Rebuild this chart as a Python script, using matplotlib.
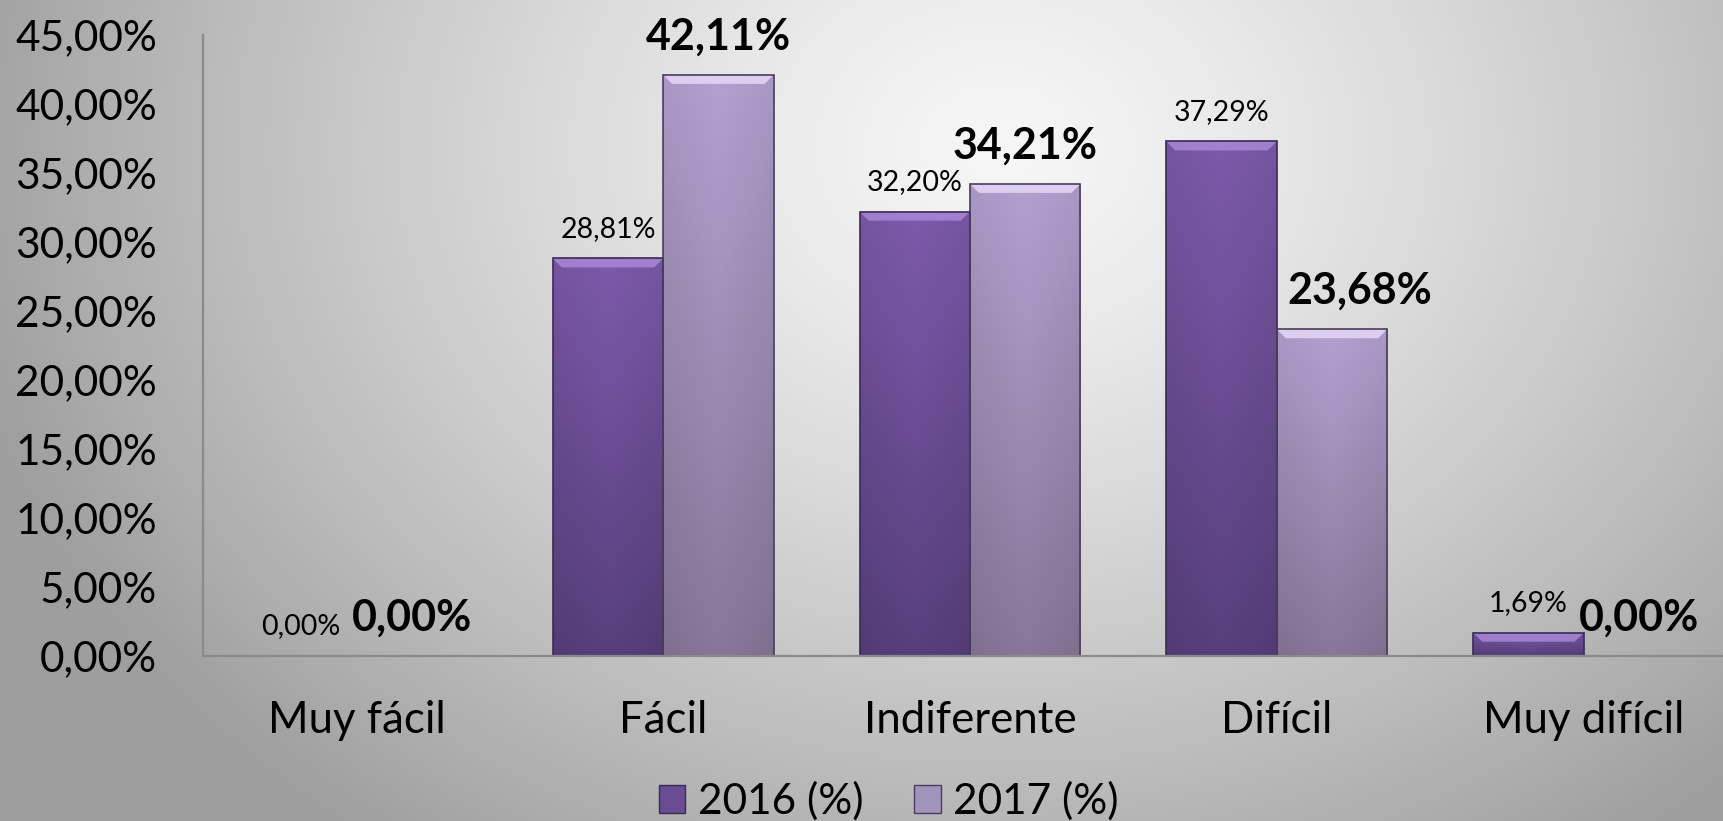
import numpy as np
import matplotlib
matplotlib.use("Agg")
import matplotlib.pyplot as plt
from matplotlib.patches import Polygon, Patch
from matplotlib.colors import to_rgb

categories = ["Muy fácil", "Fácil", "Indiferente", "Difícil", "Muy difícil"]
series_names = ["2016 (%)", "2017 (%)"]
values_2016 = [0.00, 28.81, 32.20, 37.29, 1.69]
values_2017 = [0.00, 42.11, 34.21, 23.68, 0.00]
y_ticks = [0, 5, 10, 15, 20, 25, 30, 35, 40, 45]

FONT = ["Lato", "DejaVu Sans"]
plt.rcParams["font.family"] = FONT

W, H = 1723, 821
fig = plt.figure(figsize=(W / 100, H / 100), dpi=100)

# radial gray background
bg = fig.add_axes([0, 0, 1, 1], zorder=-10)
yy, xx = np.mgrid[0:H, 0:W]
cx, cy = 0.58 * W, 0.18 * H
d = np.sqrt(((xx - cx) / (0.62 * W)) ** 2 + ((yy - cy) / (1.05 * H)) ** 2)
d = np.clip(d, 0, 1)
light, dark = 0.965, 0.62
g = light - (light - dark) * d ** 1.3
bg.imshow(np.dstack([g, g, g]), extent=[0, 1, 0, 1], aspect="auto", origin="upper")
bg.axis("off")

ax = fig.add_axes([203 / W, 1 - 656 / H, 1534 / W, 621 / H])
ax.patch.set_alpha(0)

x = np.arange(len(categories))
bw = 0.36
colors = [
    dict(top="#7d5aab", bot="#573f7c", bevel="#a888d6", edge="#3b2a55"),
    dict(top="#b3a2d0", bot="#877799", bevel="#e6d8f8", edge="#4a3d5c"),
]

ax.set_xlim(-0.5, len(categories) - 0.5)
ax.set_ylim(0, 45)

px_per_unit = 621 / 45.0
bevel_h = 9 / px_per_unit
bevel_dx = 9 / 306.8

# horizontal nudges (points) for labels that avoid neighbouring bars
label_dx_2017 = [0, 0, 0, 20, 0]

for si, (vals, offs) in enumerate([(values_2016, -bw / 2), (values_2017, bw / 2)]):
    c = colors[si]
    bars = ax.bar(x + offs, vals, width=bw, facecolor="none",
                  edgecolor=c["edge"], linewidth=1.2, zorder=4)
    t = np.array(to_rgb(c["top"]))
    b = np.array(to_rgb(c["bot"]))
    for rect, v in zip(bars, vals):
        if v <= 0:
            continue
        x0 = rect.get_x()
        x1 = x0 + rect.get_width()
        n = 256
        f = np.linspace(0, 1, n)[:, None]
        grad = (t[None, :] * (1 - f) + b[None, :] * f)[:, None, :]
        hz = 1 - 0.06 * np.abs(np.linspace(-1, 1, 32))[None, :, None]
        img = np.clip(grad * hz, 0, 1)
        im = ax.imshow(img, extent=[x0, x1, 0, v], aspect="auto",
                       origin="upper", zorder=3, interpolation="bilinear")
        im.set_clip_path(rect)
        bh = min(bevel_h, v * 0.5)
        ax.add_patch(Polygon([[x0, v], [x1, v], [x1 - bevel_dx, v - bh],
                              [x0 + bevel_dx, v - bh]], closed=True,
                             facecolor=c["bevel"], edgecolor="none", alpha=0.85, zorder=3.5))
    for i, (xi, v) in enumerate(zip(x + offs, vals)):
        lab = f"{v:.2f}%".replace(".", ",")
        if si == 0:
            ax.annotate(lab, (xi, v), xytext=(0, 12), textcoords="offset points",
                        ha="center", va="bottom", fontsize=20.5, color="black")
        else:
            ax.annotate(lab, (xi, v), xytext=(label_dx_2017[i], 13), textcoords="offset points",
                        ha="center", va="bottom", fontsize=31, fontweight="bold", color="black")

ax.set_xlim(-0.5, len(categories) - 0.5)
ax.set_ylim(0, 45)
ax.set_xticks(x)
ax.set_xticklabels(categories, fontsize=31.5)
ax.set_yticks(y_ticks)
ax.set_yticklabels([f"{v:.2f}%".replace(".", ",") for v in y_ticks], fontsize=30.5)
ax.tick_params(axis="y", length=0, pad=33)
ax.tick_params(axis="x", length=0, pad=32)
for s in ["top", "right"]:
    ax.spines[s].set_visible(False)
for s in ["left", "bottom"]:
    ax.spines[s].set_color("#8a8a8a")
    ax.spines[s].set_linewidth(1.6)
ax.spines["bottom"].set_zorder(5)

handles = [Patch(facecolor="#6a4c93", edgecolor="#3b2a55", label=series_names[0]),
           Patch(facecolor="#a293bd", edgecolor="#4a3d5c", label=series_names[1])]
fig.legend(handles=handles, loc="center", bbox_to_anchor=(0.516, 1 - 801 / H), ncol=2,
           frameon=False, fontsize=30.5, handlelength=0.62, handleheight=0.62,
           handletextpad=0.3, columnspacing=1.2)

fig.savefig("out.png", dpi=100)
